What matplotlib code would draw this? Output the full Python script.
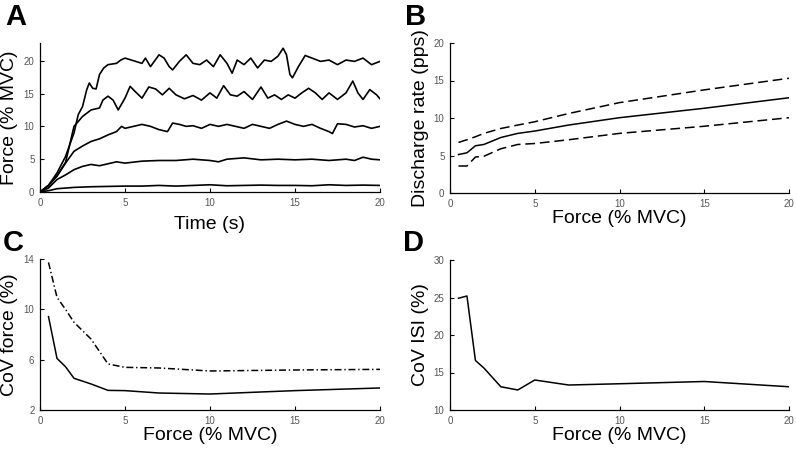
import numpy as np
import matplotlib
matplotlib.use("Agg")
import matplotlib.pyplot as plt

plt.rcParams['font.family'] = ['Liberation Sans', 'DejaVu Sans']
plt.rcParams['lines.scale_dashes'] = False

# ---- panel A: force traces ----
t20 = [0, 0.5, 1, 1.5, 2, 2.25, 2.5, 2.75, 2.9, 3.1, 3.3, 3.5, 3.75, 4, 4.5, 4.75, 5,
       5.5, 6, 6.2, 6.5, 7, 7.3, 7.6, 7.8, 8.2, 8.6, 9, 9.4, 9.8, 10.2, 10.6, 11, 11.3,
       11.6, 12, 12.4, 12.8, 13.2, 13.6, 14, 14.3, 14.5, 14.7, 14.85, 15.2, 15.6, 16,
       16.5, 17, 17.5, 18, 18.5, 19, 19.5, 20]
f20 = [0, 1.0, 2.9, 5.4, 9.0, 11.8, 13.0, 15.6, 16.6, 15.8, 15.7, 17.9, 18.9, 19.4, 19.6, 20.1, 20.4,
       20.0, 19.6, 20.4, 19.1, 20.9, 20.4, 19.1, 18.6, 19.9, 20.9, 19.6, 19.4, 20.1, 19.1, 20.9, 19.6, 18.1,
       20.1, 19.4, 20.4, 18.9, 20.1, 19.9, 20.7, 21.9, 20.9, 17.9, 17.4, 19.1, 20.8, 20.4,
       19.9, 20.1, 19.4, 20.1, 19.9, 20.4, 19.4, 19.9]

t15 = [0, 0.5, 1, 1.5, 2, 2.5, 3, 3.5, 3.7, 4, 4.3, 4.6, 5, 5.3, 5.6, 6, 6.4, 6.8, 7.2,
       7.6, 8, 8.5, 9, 9.5, 10, 10.4, 10.8, 11.2, 11.6, 12, 12.5, 13, 13.4, 13.8, 14.2,
       14.6, 15, 15.4, 15.8, 16.2, 16.6, 17, 17.5, 18, 18.4, 18.7, 19, 19.4, 19.8, 20]
f15 = [0, 1.0, 2.5, 4.5, 10.0, 11.5, 12.5, 12.8, 14.0, 14.6, 14.0, 12.5, 14.3, 16.1, 15.3, 14.3, 16.0, 15.7, 14.8,
       15.8, 14.8, 14.2, 14.7, 14.0, 15.1, 14.3, 16.2, 14.8, 14.6, 15.3, 14.1, 16.0, 14.3, 14.8, 14.1,
       14.8, 14.3, 15.1, 15.8, 15.1, 14.1, 15.1, 14.1, 15.1, 16.9, 15.1, 14.1, 15.6, 14.8, 14.2]

t10 = [0, 0.5, 1, 1.5, 2, 2.5, 3, 3.5, 4, 4.5, 4.8, 5, 5.5, 6, 6.5, 7, 7.5, 7.8, 8.2, 8.6,
       9, 9.5, 10, 10.5, 11, 11.5, 12, 12.5, 13, 13.5, 14, 14.5, 15, 15.5, 16, 16.5, 17,
       17.2, 17.5, 18, 18.5, 19, 19.5, 20]
f10 = [0, 1.0, 2.4, 4.4, 6.2, 7.0, 7.7, 8.1, 8.7, 9.2, 10.0, 9.7, 10.0, 10.3, 10.0, 9.5, 9.2, 10.5, 10.3, 10.0,
       10.1, 9.7, 10.3, 10.0, 10.3, 10.0, 9.7, 10.3, 10.0, 9.7, 10.3, 10.8, 10.3, 10.0, 10.3, 9.7, 9.2,
       8.9, 10.4, 10.3, 9.9, 10.1, 9.7, 10.0]

t5 = [0, 0.5, 1, 1.5, 2, 2.5, 3, 3.5, 4, 4.5, 5, 6, 7, 8, 9, 10, 10.5, 11, 12, 13, 14,
      15, 16, 17, 18, 18.5, 19, 19.5, 20]
f5 = [0, 0.6, 1.9, 2.6, 3.4, 3.9, 4.2, 4.0, 4.3, 4.6, 4.4, 4.7, 4.8, 4.8, 5.0, 4.8, 4.6, 5.0, 5.2, 4.9, 5.0,
      4.9, 5.0, 4.8, 5.0, 4.8, 5.3, 5.0, 4.9]

t1 = [0, 0.5, 1, 2, 3, 5, 6, 7, 8, 9, 10, 11, 12, 13, 14, 15, 16, 17, 18, 19, 20]
f1 = [0, 0.2, 0.5, 0.7, 0.8, 0.9, 0.9, 1.0, 0.9, 1.0, 1.1, 0.95, 1.0, 1.05, 1.0, 1.0, 0.95, 1.1, 1.0, 1.05, 1.0]

traces = [(t20, f20), (t15, f15), (t10, f10), (t5, f5), (t1, f1)]

# ---- panels B-D: summary vs force level ----
force_levels = [0.5, 1, 1.5, 2, 3, 4, 5, 7, 10, 15, 20]
dr_mean = [5.13, 5.36, 6.3, 6.47, 7.4, 7.95, 8.26, 9.06, 10.04, 11.3, 12.7]
dr_upper = [6.74, 7.1, 7.5, 7.95, 8.6, 9.06, 9.5, 10.6, 12.05, 13.75, 15.3]
dr_lower = [3.6, 3.6, 4.8, 4.9, 5.9, 6.47, 6.6, 7.1, 7.95, 8.9, 10.04]

cov_force_solid = [9.42, 6.1, 5.44, 4.52, 4.07, 3.56, 3.54, 3.35, 3.27, 3.54, 3.75]
cov_force_dashdot = [13.73, 10.95, 10.0, 8.97, 7.64, 5.66, 5.39, 5.34, 5.1, 5.18, 5.23]

cov_isi = [24.9, 25.2, 16.6, 15.6, 13.1, 12.67, 14.0, 13.33, 13.5, 13.8, 13.1]

fig = plt.figure(figsize=(7.96, 4.54), dpi=100)
W, H = 796, 454


def make_ax(l, t, r, b):
    return fig.add_axes([l / W, 1 - b / H, (r - l) / W, (b - t) / H])


def style(ax, xlabel, ylabel, yticks, ylim, xlab_off, ylab_off):
    ax.set_xlim(0, 20)
    ax.set_ylim(*ylim)
    ax.set_xticks([0, 5, 10, 15, 20])
    ax.set_yticks(yticks)
    for s in ['top', 'right']:
        ax.spines[s].set_visible(False)
    for s in ['left', 'bottom']:
        ax.spines[s].set_linewidth(0.9)
    ax.tick_params(direction='in', length=3, width=0.8, labelsize=7,
                   labelcolor='#555555', pad=4)
    ax.set_xlabel(xlabel, fontsize=14, va='top')
    ax.set_ylabel(ylabel, fontsize=14)
    ax.xaxis.set_label_coords(0.5, xlab_off)
    ax.yaxis.set_label_coords(ylab_off, 0.5)


axA = make_ax(40, 43, 380, 192)
axB = make_ax(450, 43, 789, 193)
axC = make_ax(40, 259, 380, 410)
axD = make_ax(450, 260, 789, 410)

for t, f in traces:
    axA.plot(t, f, color='black', lw=1.2)
style(axA, 'Time (s)', 'Force (% MVC)', [0, 5, 10, 15, 20], (0, 22.7), -0.16, -0.065)

axB.plot(force_levels, dr_mean, color='black', lw=1.1)
axB.plot(force_levels, dr_upper, color='black', lw=1.1, dashes=(7, 3.5))
axB.plot(force_levels, dr_lower, color='black', lw=1.1, dashes=(7, 3.5))
style(axB, 'Force (% MVC)', 'Discharge rate (pps)', [0, 5, 10, 15, 20], (0, 20), -0.115, -0.062)

axC.plot(force_levels, cov_force_solid, color='black', lw=1.1)
axC.plot(force_levels, cov_force_dashdot, color='black', lw=1.1, dashes=(5, 2, 1, 2))
style(axC, 'Force (% MVC)', 'CoV force (%)', [2, 6, 10, 14], (2, 14), -0.115, -0.065)

axD.plot(force_levels, cov_isi, color='black', lw=1.1)
style(axD, 'Force (% MVC)', 'CoV ISI (%)', [10, 15, 20, 25, 30], (10, 30), -0.115, -0.062)

for lab, x, y in [('A', 5, 3), ('B', 405, 3), ('C', 3, 229), ('D', 403, 229)]:
    fig.text(x / W, 1 - y / H, lab, fontsize=21, fontweight='bold', va='top', ha='left')

fig.savefig('out.png', dpi=100)
